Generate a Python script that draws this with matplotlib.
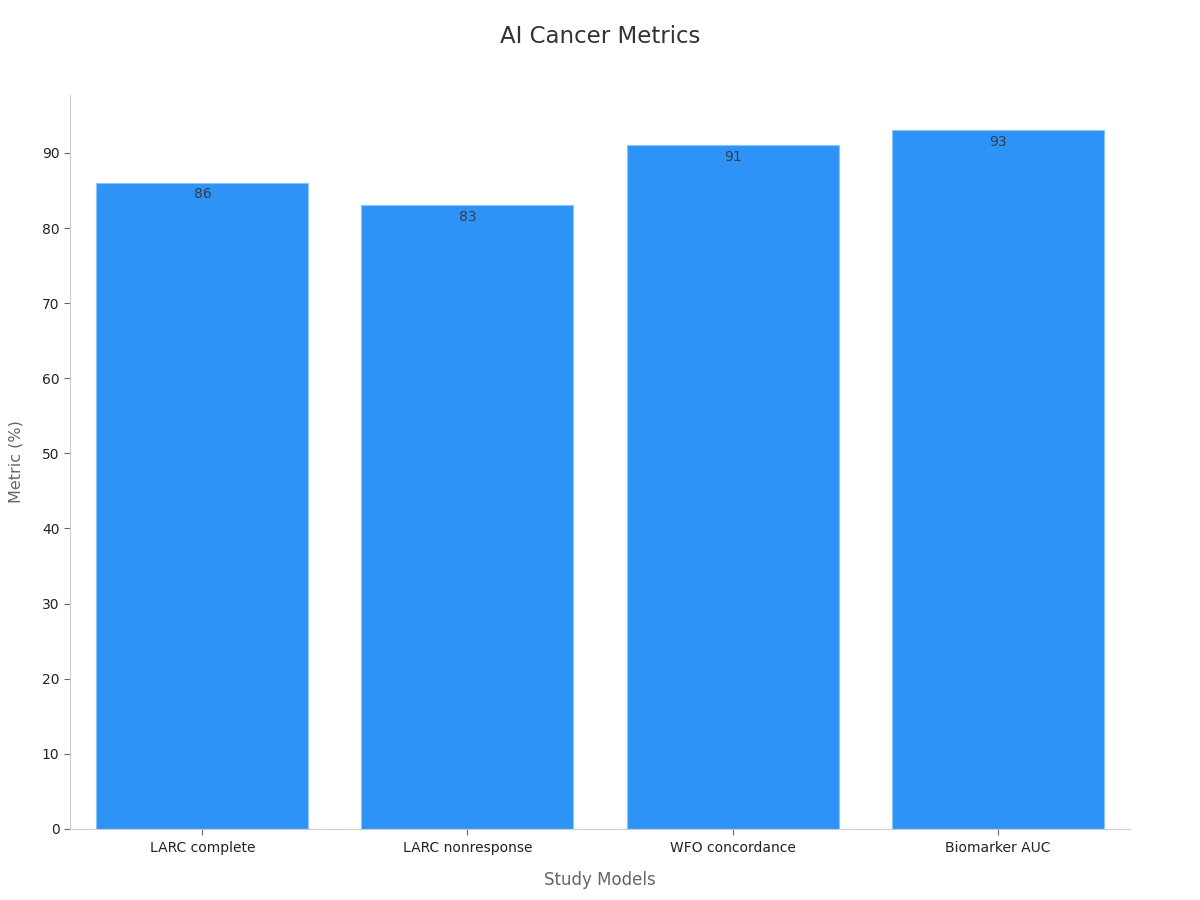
import matplotlib.pyplot as plt

categories = ['LARC complete', 'LARC nonresponse', 'WFO concordance', 'Biomarker AUC']
values = [86, 83, 91, 93]

fig = plt.figure(figsize=(12, 9), dpi=100)
ax = fig.add_axes([0.0583, 0.0789, 0.8834, 0.8155])

x = range(len(categories))
ax.bar(x, values, width=0.8, color='#2E93F7', edgecolor='#8CC4FA', linewidth=0.8)

for i, v in zip(x, values):
    ax.text(i, v - 0.6, '%d' % v, ha='center', va='top', fontsize=10, color='#333d4a')

ax.set_xlim(-0.5, 3.5)
ax.set_ylim(0, 97.7)
ax.set_yticks(range(0, 91, 10))
ax.set_xticks(list(x))
ax.set_xticklabels(categories)

for s in ['top', 'right']:
    ax.spines[s].set_visible(False)
for s in ['left', 'bottom']:
    ax.spines[s].set_color('#cccccc')
ax.tick_params(colors='#222222', labelsize=10)
ax.tick_params(axis='both', color='#666666', length=4)
ax.tick_params(axis='x', pad=5)

ax.set_xlabel('Study Models', fontsize=12, color='#666666', labelpad=11)
ax.set_ylabel('Metric (%)', fontsize=11.5, color='#666666', labelpad=13)
fig.suptitle('AI Cancer Metrics', fontsize=16.5, color='#333333', y=0.972)

plt.savefig('out.png')
